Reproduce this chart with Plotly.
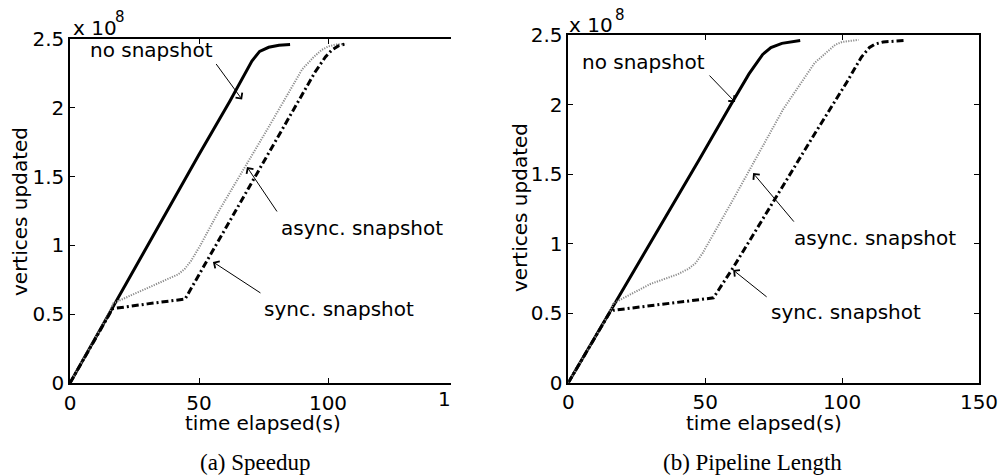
import plotly.graph_objects as go

# ---------------- data (vertices in units of 1e8) ----------------
# (a) Speedup
t_no_a = [0, 15, 33.6, 50, 62, 68, 70.5, 73.5, 77, 81, 85.3]
v_no_a = [0, 0.50, 1.11, 1.66, 2.05, 2.26, 2.34, 2.41, 2.44, 2.455, 2.46]
t_as_a = [0, 15, 16.8, 25, 35, 42, 44.5, 47, 50.5, 58, 77, 90, 94.5, 97.5, 100, 103, 107]
v_as_a = [0, 0.50, 0.58, 0.65, 0.73, 0.79, 0.83, 0.89, 1.0, 1.26, 1.86, 2.28, 2.37, 2.42, 2.445, 2.46, 2.465]
t_sy_a = [0, 15, 16.5, 30, 44.6, 50, 55.5, 65.2, 80, 95, 99, 101.5, 104, 107]
v_sy_a = [0, 0.50, 0.54, 0.575, 0.61, 0.787, 0.967, 1.286, 1.77, 2.26, 2.37, 2.42, 2.45, 2.465]

# (b) Pipeline Length
t_no_b = [0, 15, 48, 60, 66, 68.5, 71, 74, 78, 84.7]
v_no_b = [0, 0.50, 1.61, 2.02, 2.22, 2.29, 2.36, 2.41, 2.44, 2.46]
t_as_b = [0, 15, 16.4, 30, 40, 44, 46.5, 49, 60, 78.6, 90, 94.4, 97.5, 100, 103, 106]
v_as_b = [0, 0.50, 0.57, 0.71, 0.78, 0.82, 0.86, 0.93, 1.31, 1.97, 2.30, 2.38, 2.43, 2.45, 2.46, 2.465]
t_sy_b = [0, 15, 16.4, 35, 53, 60.3, 75, 90, 101.7, 107, 110, 112, 115, 119, 122.5]
v_sy_b = [0, 0.50, 0.52, 0.565, 0.61, 0.83, 1.31, 1.79, 2.16, 2.34, 2.41, 2.435, 2.45, 2.458, 2.46]

x_ticks = [0, 50, 100, 150]
y_ticks = [0, 0.5, 1, 1.5, 2, 2.5]
y_tick_text = ["0", "0.5", "1", "1.5", "2", "2.5"]
captions = ["(a) Speedup", "(b) Pipeline Length"]
labels = ["no snapshot", "async. snapshot", "sync. snapshot"]

SANS = "DejaVu Sans"
SERIF = "Liberation Serif"
FS = 20

fig = go.Figure()

styles = {
    "no": dict(color="black", width=3, dash="solid"),
    "as": dict(color="#8c8c8c", width=2, dash="1.2px,1.3px"),
    "sy": dict(color="black", width=3, dash="7px,3px,2px,3px"),
}

for (t, v, key, xa, ya) in [
    (t_no_a, v_no_a, "no", "x", "y"),
    (t_as_a, v_as_a, "as", "x", "y"),
    (t_sy_a, v_sy_a, "sy", "x", "y"),
    (t_no_b, v_no_b, "no", "x2", "y2"),
    (t_as_b, v_as_b, "as", "x2", "y2"),
    (t_sy_b, v_sy_b, "sy", "x2", "y2"),
]:
    fig.add_trace(go.Scatter(x=t, y=v, mode="lines", line=styles[key],
                             xaxis=xa, yaxis=ya, showlegend=False,
                             hoverinfo="skip"))

axis_common = dict(showgrid=False, zeroline=False, ticks="inside", ticklen=5,
                   tickcolor="black", linecolor="black", linewidth=1.5,
                   showline=True, automargin=False,
                   tickfont=dict(family=SANS, size=FS, color="black"))

fig.update_layout(
    width=1000, height=475, autosize=False,
    margin=dict(l=0, r=0, t=0, b=0, pad=0),
    paper_bgcolor="white", plot_bgcolor="white",
    xaxis=dict(domain=[0.070, 0.451], range=[0, 147.67], tickvals=x_ticks,
               mirror="ticks", anchor="y", ticklabelstandoff=1, **axis_common),
    yaxis=dict(domain=[0.19368, 0.91789], range=[0, 2.5], tickvals=y_ticks,
               ticktext=y_tick_text, mirror=False, anchor="x", **axis_common),
    xaxis2=dict(domain=[0.5683, 0.979], range=[0, 150], tickvals=x_ticks,
                mirror="ticks", anchor="y2", ticklabelstandoff=1, **axis_common),
    yaxis2=dict(domain=[0.19432, 0.92632], range=[0, 2.5], tickvals=y_ticks,
                ticktext=y_tick_text, mirror="ticks", anchor="x2", **axis_common),
)

ann = []
tf = dict(family=SANS, size=FS, color="black")

# text labels in data coordinates
for xa, ya, items in [
    ("x", "y", [(31.6, 2.42, labels[0]), (113.0, 1.126, labels[1]), (104.3, 0.538, labels[2])]),
    ("x2", "y2", [(27.6, 2.305, labels[0]), (112.1, 1.040, labels[1]), (101.4, 0.508, labels[2])]),
]:
    for (x, y, s) in items:
        ann.append(dict(x=x, y=y, xref=xa, yref=ya, text=s, showarrow=False,
                        font=tf, xanchor="center", yanchor="middle"))

# arrows: tip in data coords, tail as pixel offset
for xa, ya, items in [
    ("x", "y", [(66.7, 2.06, -27, -37), (68.6, 1.57, 31, 46), (55.4, 0.88, 49, 32)]),
    ("x2", "y2", [(60.9, 2.018, -27, -28), (67.5, 1.507, 42, 50), (60.2, 0.81, 35, 28)]),
]:
    for (x, y, dx, dy) in items:
        ann.append(dict(x=x, y=y, xref=xa, yref=ya, text="", showarrow=True,
                        ax=dx, ay=dy, arrowhead=4, arrowsize=1.6, arrowwidth=1,
                        arrowcolor="black", standoff=0, startstandoff=0))

# exponent labels
for x0, yb, x8, y8 in [(0.071, 1 - 28 / 475, 0.1125, 1 - 17 / 475),
                       (0.567, 1 - 25.5 / 475, 0.6125, 1 - 15 / 475)]:
    ann.append(dict(x=x0, y=yb, xref="paper", yref="paper", text="x 10",
                    showarrow=False, font=tf, xanchor="left", yanchor="middle"))
    ann.append(dict(x=x8, y=y8, xref="paper", yref="paper", text="8",
                    showarrow=False, font=dict(family=SANS, size=15, color="black"),
                    xanchor="left", yanchor="middle"))

# axis titles
for cx, cy, s, ang in [(0.263, 1 - 423 / 475, "time elapsed(s)", 0),
                       (0.764, 1 - 423 / 475, "time elapsed(s)", 0),
                       (0.020, 1 - 212 / 475, "vertices updated", -90),
                       (0.520, 1 - 208 / 475, "vertices updated", -90)]:
    ann.append(dict(x=cx, y=cy, xref="paper", yref="paper", text=s, textangle=ang,
                    showarrow=False, font=tf, xanchor="center", yanchor="middle"))

# clipped tick label at the cropped right edge of panel (a)
ann.append(dict(x=0.436, y=1 - 399 / 475, xref="paper", yref="paper", text="1",
                showarrow=False, font=tf, xanchor="left", yanchor="middle"))

# captions
for cx, s in [(0.255, captions[0]), (0.752, captions[1])]:
    ann.append(dict(x=cx, y=1 - 462 / 475, xref="paper", yref="paper", text=s,
                    showarrow=False, font=dict(family=SERIF, size=23, color="black"),
                    xanchor="center", yanchor="middle"))

fig.update_layout(annotations=ann)
fig.write_html("out.html")
